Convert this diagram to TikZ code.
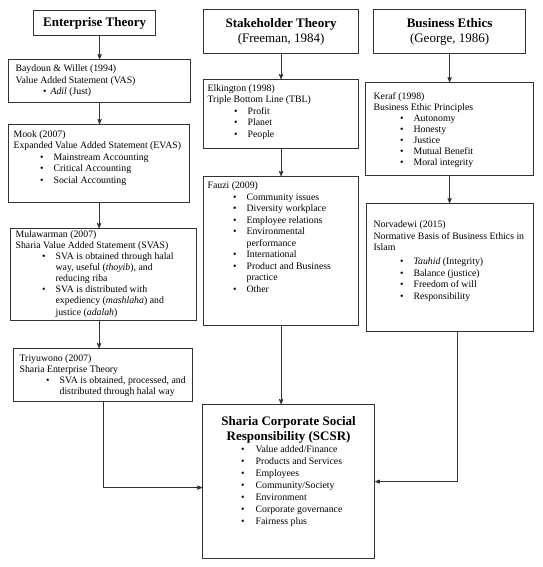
\documentclass[tikz,border=0pt]{standalone}
\usepackage{fontspec}
\setmainfont{Liberation Serif}
\usetikzlibrary{arrows}

\newcommand{\panelbody}[3]{\parbox[c][#2][t]{#1}{\raggedright\rightskip=-8pt plus 1fil\strut#3}}
\newenvironment{dotlist}[2][10pt]{\begin{list}{\textbullet}{\setlength{\leftmargin}{#2}\setlength{\labelsep}{#1}%
  \setlength{\labelwidth}{6pt}\setlength{\itemindent}{0pt}\setlength{\topsep}{0pt}\setlength{\partopsep}{0pt}%
  \setlength{\itemsep}{0pt}\setlength{\parsep}{0pt}}}{\end{list}}

\begin{document}
\begin{tikzpicture}[x=1pt,y=-1pt,>=stealth',
	head/.style={draw=black!80,line width=1.2pt,anchor=north west,align=center,inner sep=0pt,font=\fontsize{13}{15}\selectfont},
	panel/.style={draw=black!80,line width=1.2pt,anchor=north west,inner xsep=5pt,inner ysep=4pt,font=\fontsize{9.8}{11.5}\selectfont},
	link/.style={->,line width=0.8pt,draw=black!80}]
	\useasboundingbox (0,0) rectangle (542,567);
	% left column
	\node[head,minimum width=122,minimum height=25] (ent) at (33,10) {\textbf{Enterprise Theory}};
	\node[panel,inner xsep=7pt] (baydoun) at (8,59) {\panelbody{168pt}{35pt}{Baydoun \& Willet (1994)\\Value Added Statement (VAS)
		\begin{dotlist}[4pt]{35pt}\item \textit{Adil} (Just)\end{dotlist}}};
	\node[panel,inner ysep=4.5pt] (mook) at (8,124) {\panelbody{171pt}{69pt}{Mook (2007)\\Expanded Value Added Statement (EVAS)
		\begin{dotlist}{40pt}\item Mainstream Accounting \item Critical Accounting \item Social Accounting\end{dotlist}}};
	\node[panel,inner ysep=1pt,font=\fontsize{9.8}{11.1}\selectfont] (mula) at (10,228) {\panelbody{176pt}{90pt}{Mulawarman (2007)\\Sharia Value Added Statement (SVAS)
		\begin{dotlist}{40pt}\item SVA is obtained through halal\\way, useful (\textit{thoyib}), and\\reducing riba
		\item SVA is distributed with\\expediency (\textit{mashlaha}) and\\justice (\textit{adalah})\end{dotlist}}};
	\node[panel,inner xsep=6pt,inner ysep=4.5pt,font=\fontsize{9.8}{11.3}\selectfont] (triyu) at (13,348) {\panelbody{167pt}{44pt}{Triyuwono (2007)\\Sharia Enterprise Theory
		\begin{dotlist}{40pt}\item SVA is obtained, processed, and\\distributed through halal way\end{dotlist}}};
	% middle column
	\node[head,minimum width=155,minimum height=44] (stake) at (203,9) {\textbf{Stakeholder Theory}\\(Freeman, 1984)};
	\node[panel,inner xsep=4pt,inner ysep=3.5pt] (elk) at (203,79) {\panelbody{147pt}{62pt}{Elkington (1998)\\Triple Bottom Line (TBL)
		\begin{dotlist}{40pt}\item Profit \item Planet \item People\end{dotlist}}};
	\node[panel,inner xsep=4pt] (fauzi) at (203,176) {\panelbody{147pt}{141pt}{Fauzi (2009)
		\begin{dotlist}{39pt}\item Community issues \item Diversity workplace \item Employee relations
		\item Environmental\\performance \item International \item Product and Business\\practice \item Other\end{dotlist}}};
	% right column
	\node[head,minimum width=152,minimum height=44] (ethics) at (373,9) {\textbf{Business Ethics}\\(George, 1986)};
	\node[panel,inner xsep=8pt,inner ysep=9pt,font=\fontsize{9.8}{11}\selectfont] (keraf) at (365,82) {\panelbody{152pt}{75pt}{Keraf (1998)\\Business Ethic Principles
		\begin{dotlist}{40pt}\item Autonomy \item Honesty \item Justice \item Mutual Benefit \item Moral integrity\end{dotlist}}};
	\node[panel,inner xsep=7pt,inner ysep=16pt] (norva) at (366,203) {\panelbody{153pt}{96pt}{Norvadewi (2015)\\Normative Basis of Business Ethics in\\Islam\par\vspace{2.5pt}
		\begin{dotlist}{40pt}\item \textit{Tauhid} (Integrity) \item Balance (justice) \item Freedom of will \item Responsibility\end{dotlist}}};
	% result
	\node[panel,inner ysep=12pt] (scsr) at (202,404) {\panelbody{162pt}{130pt}{{\centering\fontsize{13}{15}\selectfont\bfseries Sharia Corporate Social\\Responsibility (SCSR)\par}
		\fontsize{9.8}{12}\selectfont
		\begin{dotlist}[11pt]{48pt}\item Value added/Finance \item Products and Services \item Employees \item Community/Society
		\item Environment \item Corporate governance \item Fairness plus\end{dotlist}}};
	% connectors
	\draw[link] (baydoun.north |- ent.south) -- (baydoun.north);
	\draw[link] (baydoun.south) -- (baydoun.south |- mook.north);
	\draw[link] (mook.south) -- (mook.south |- mula.north);
	\draw[link] (mook.south |- mula.south) -- (mook.south |- triyu.north);
	\draw[link] (triyu.south) |- ([yshift=-6pt]scsr.west);
	\draw[link] (stake.south) -- (elk.north);
	\draw[link] (elk.south) -- (fauzi.north);
	\draw[link] (fauzi.south) -- (fauzi.south |- scsr.north);
	\draw[link] (ethics.south) -- (ethics.south |- keraf.north);
	\draw[link] (keraf.south) -- (keraf.south |- norva.north);
	\draw[link] ([xshift=7.5pt]norva.south) |- (scsr.east);
\end{tikzpicture}
\end{document}
